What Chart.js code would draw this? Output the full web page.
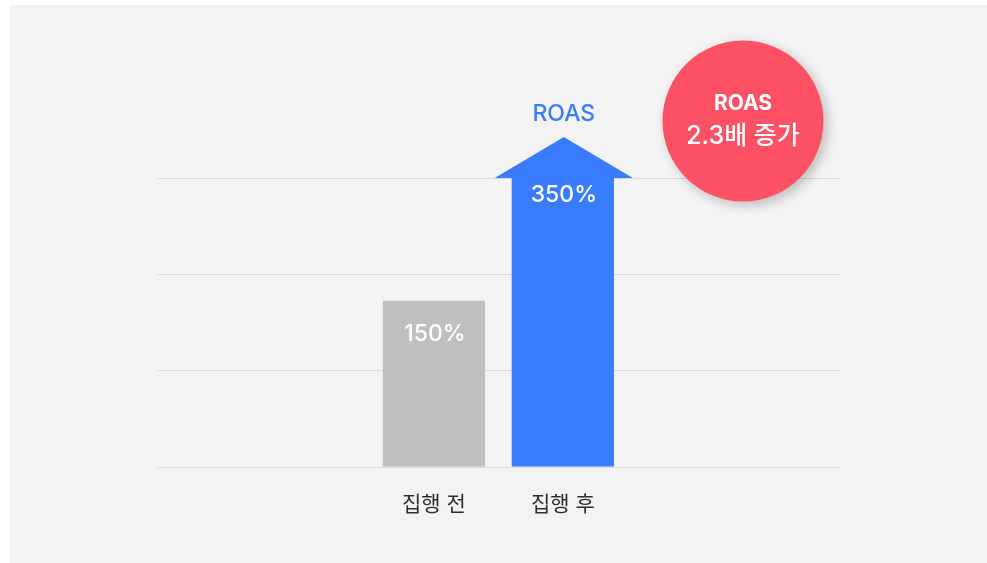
<!DOCTYPE html>
<html>
<head>
<meta charset="utf-8">
<script src="https://cdn.jsdelivr.net/npm/chart.js@4.4.1/dist/chart.umd.min.js"></script>
<style>
  html, body { margin: 0; padding: 0; background: #ffffff; }
  #panel { position: absolute; left: 10px; top: 5px; width: 977px; height: 558px; background: #f3f3f3; }
  canvas { display: block; }
</style>
</head>
<body>
<div id="panel"><canvas id="c" width="977" height="558"></canvas></div>
<script>
// ---- data ----
const categories = ['집행 전', '집행 후'];
const roasValues = [150, 350];
const valueLabels = ['150%', '350%'];
const arrowTitle = 'ROAS';
const badgeLines = ['ROAS', '2.3배 증가'];
const yMin = -121;
const yMax = 350;
const yGridValues = [-121, 36, 193, 350];

const FONT = "Inter, 'Noto Sans CJK KR', 'Noto Sans', sans-serif";
const BLUE = '#3a7cff';
const GRAY = '#bfbfbf';
const RED = '#ff5166';

const overlay = {
  id: 'overlay',
  afterDatasetsDraw(chart) {
    const ctx = chart.ctx;
    const meta = chart.getDatasetMeta(0);
    const barEls = meta.data;
    // arrow head on last bar
    const blue = barEls[1];
    const half = blue.width / 2;
    ctx.save();
    ctx.fillStyle = BLUE;
    ctx.beginPath();
    ctx.moveTo(blue.x - half - 17, blue.y);
    ctx.lineTo(blue.x + 1, blue.y - 41);
    ctx.lineTo(blue.x + half + 19, blue.y);
    ctx.closePath();
    ctx.fill();

    // value labels
    ctx.fillStyle = '#ffffff';
    ctx.font = '500 23px ' + FONT;
    ctx.textAlign = 'center';
    ctx.textBaseline = 'middle';
    const offs = [33, 17];
    barEls.forEach((el, i) => {
      ctx.fillText(valueLabels[i], el.x + 1, el.y + offs[i]);
    });

    // ROAS title above arrow
    ctx.fillStyle = BLUE;
    ctx.fillText(arrowTitle, blue.x + 1, blue.y - 64);

    // badge circle
    const cx = chart.chartArea.right - 97;
    const cy = chart.chartArea.top - 57;
    ctx.save();
    ctx.shadowColor = 'rgba(0,0,0,0.22)';
    ctx.shadowBlur = 12;
    ctx.shadowOffsetX = 4;
    ctx.shadowOffsetY = 4;
    ctx.fillStyle = RED;
    ctx.beginPath();
    ctx.arc(cx, cy, 80.5, 0, Math.PI * 2);
    ctx.fill();
    ctx.restore();
    ctx.fillStyle = '#ffffff';
    ctx.font = 'bold 21px ' + FONT;
    ctx.fillText(badgeLines[0], cx, cy - 17);
    ctx.font = '500 25px ' + FONT;
    ctx.fillText(badgeLines[1], cx, cy + 15);
    ctx.restore();
  }
};

new Chart(document.getElementById('c'), {
  type: 'bar',
  data: {
    datasets: [{
      data: roasValues.map((v, i) => ({ x: i, y: v })),
      backgroundColor: [GRAY, BLUE],
      borderWidth: 0,
      base: yMin,
      barPercentage: 0.793,
      categoryPercentage: 1
    }]
  },
  options: {
    responsive: false,
    animation: false,
    devicePixelRatio: 1,
    layout: { padding: { left: 148, right: 147, top: 173, bottom: 0 } },
    plugins: { legend: { display: false }, tooltip: { enabled: false } },
    scales: {
      x: {
        type: 'linear',
        offset: false,
        min: -2.14,
        max: 3.15,
        afterBuildTicks: (s) => { s.ticks = categories.map((_, i) => ({ value: i })); },
        afterFit: (s) => { s.height = 96; },
        grid: { display: false },
        border: { display: false },
        ticks: {
          autoSkip: false,
          maxRotation: 0,
          padding: 17,
          color: '#2e2e2e',
          font: { size: 21, family: FONT },
          callback: (v) => categories[v] ?? ''
        }
      },
      y: {
        min: yMin,
        max: yMax,
        afterBuildTicks: (s) => { s.ticks = yGridValues.map(v => ({ value: v })); },
        afterFit: (s) => { s.width = 0; },
        grid: { color: '#dadada', lineWidth: 1, drawTicks: false },
        border: { display: false },
        ticks: { display: false }
      }
    }
  },
  plugins: [overlay]
});
</script>
</body>
</html>
